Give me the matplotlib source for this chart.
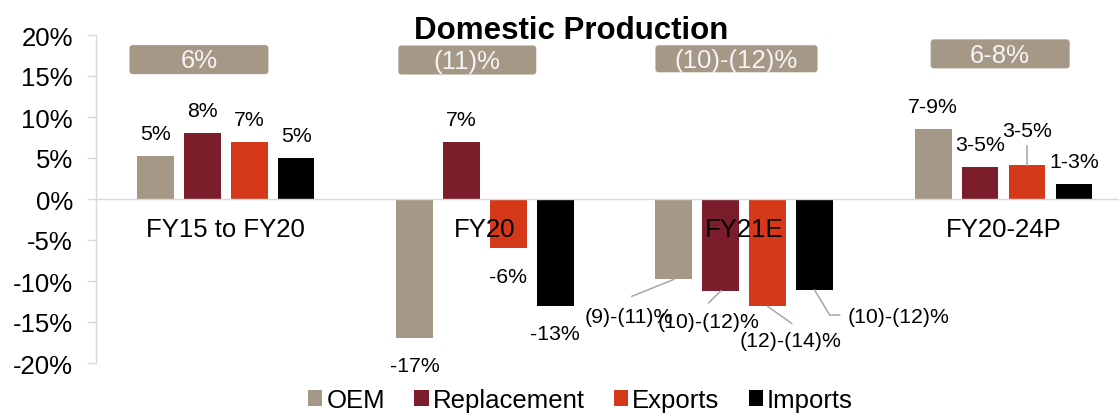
import matplotlib.pyplot as plt
import matplotlib.transforms as mtransforms
from matplotlib.patches import FancyBboxPatch
from matplotlib.lines import Line2D
from matplotlib.ticker import FuncFormatter
import numpy as np

plt.rcParams['font.family'] = ['Liberation Sans', 'DejaVu Sans']
plt.rcParams['axes.unicode_minus'] = False

# Data
periods = ["FY15 to FY20", "FY20", "FY21E", "FY20-24P"]
series = ["OEM", "Replacement", "Exports", "Imports"]

oem = [5.2, -16.9, -9.8, 8.5]
replacement = [8.1, 7.0, -11.2, 3.9]
exports = [7.0, -6.0, -13.1, 4.2]
imports = [5.0, -13.0, -11.1, 1.8]

oem_labels = ["5%", "-17%", "(9)-(11)%", "7-9%"]
replacement_labels = ["8%", "7%", "(10)-(12)%", "3-5%"]
exports_labels = ["7%", "-6%", "(12)-(14)%", "3-5%"]
imports_labels = ["5%", "-13%", "(10)-(12)%", "1-3%"]

# overall growth shown in the boxes above each period
overall = ["6%", "(11)%", "(10)-(12)%", "6-8%"]

colors = ["#A69886", "#7B1D2B", "#D5391A", "#000000"]
grey = "#D9D9D9"
leader_grey = "#A6A6A6"

W, H = 1119, 414
fig = plt.figure(figsize=(W / 100, H / 100), dpi=100)
ax = fig.add_axes([96 / W, 1 - 364 / H, 1023 / W, 328 / H])

x = np.arange(len(periods))
width = 0.142
step = 0.181

values = [oem, replacement, exports, imports]
labels = [oem_labels, replacement_labels, exports_labels, imports_labels]

for k, (name, vals, col) in enumerate(zip(series, values, colors)):
    ax.bar(x + (k - 1.5) * step, vals, width, color=col, label=name, zorder=2)

# label offsets in pixels; some labels get a leader line back to the bar
callouts = {
    (2, 0): ((-45, -37), [(0, 0), (-42, -17)]),
    (2, 1): ((-12, -31), [(0, 0), (-12, -12)]),
    (2, 2): ((23, -34.5), [(0, 0), (24, -17)]),
    (2, 3): ((84, -26), [(0, 0), (15, -25), (25, -25)]),
    (3, 2): ((0, 34), [(0, 0), (0, 19)]),
}

for k in range(len(series)):
    for i in range(len(periods)):
        bx = x[i] + (k - 1.5) * step
        v = values[k][i]
        if (i, k) in callouts:
            (dx, dy), path = callouts[(i, k)]
            tf = mtransforms.ScaledTranslation(bx, v, ax.transData)
            px, py = zip(*path)
            ax.add_line(Line2D(px, py, transform=tf, color=leader_grey,
                               lw=1.1, clip_on=False, zorder=3))
        else:
            dx, dy = (0, 22.5) if v > 0 else (0, -28)
        ax.annotate(labels[k][i], xy=(bx, v), xytext=(dx, dy),
                    textcoords='offset pixels', ha='center', va='center',
                    fontsize=15.3, zorder=4)

# boxes with the overall growth
badge_dx = [-0.103, -0.068, -0.030, -0.013]
badge_y = [17.0, 16.95, 17.1, 17.7]
badge_w = [0.536, 0.532, 0.625, 0.536]
badge_h = [3.54, 3.54, 3.3, 3.54]
for i, txt in enumerate(overall):
    cx = x[i] + badge_dx[i]
    box = FancyBboxPatch((cx - badge_w[i] / 2, badge_y[i] - badge_h[i] / 2),
                         badge_w[i], badge_h[i],
                         boxstyle="round,pad=0,rounding_size=0.012",
                         mutation_aspect=31.6, facecolor=colors[0],
                         edgecolor='none', clip_on=False, zorder=3)
    ax.add_patch(box)
    ax.text(cx, badge_y[i] - 0.1, txt, ha='center', va='center',
            color='#F4F4F4', fontsize=18.5, zorder=4)

ax.set_xlim(-0.5, -0.5 + 1023 / 259.3)
ax.set_ylim(-20, 20)
ax.set_yticks(range(-20, 25, 5))
ax.yaxis.set_major_formatter(FuncFormatter(lambda v, p: f"{int(v)}%"))
ax.set_xticks(x, periods)
# period names sit on top of the bars
ax.xaxis.set_zorder(5)

ax.spines['top'].set_visible(False)
ax.spines['right'].set_visible(False)
ax.spines['bottom'].set_position(('data', 0))
ax.spines['bottom'].set_color(grey)
ax.spines['left'].set_color(grey)
ax.spines['bottom'].set_linewidth(1.0)
ax.spines['left'].set_linewidth(1.0)
ax.tick_params(axis='x', length=0, pad=13, labelsize=18.5)
ax.tick_params(axis='y', length=6.5, width=1.0, color=grey, pad=10,
               labelsize=18.5)

fig.text(571.5 / W, 1 - 39 / H, "Domestic Production", ha='center',
         va='baseline', fontsize=22.5, fontweight='bold')

fig.legend(loc='center', bbox_to_anchor=(580.5 / W, 1 - 401 / H), ncol=4,
           frameon=False, fontsize=18.5, handlelength=0.56, handleheight=0.56,
           handletextpad=0.16, columnspacing=1.13, borderpad=0,
           borderaxespad=0)

fig.savefig('out.png', dpi=100)
